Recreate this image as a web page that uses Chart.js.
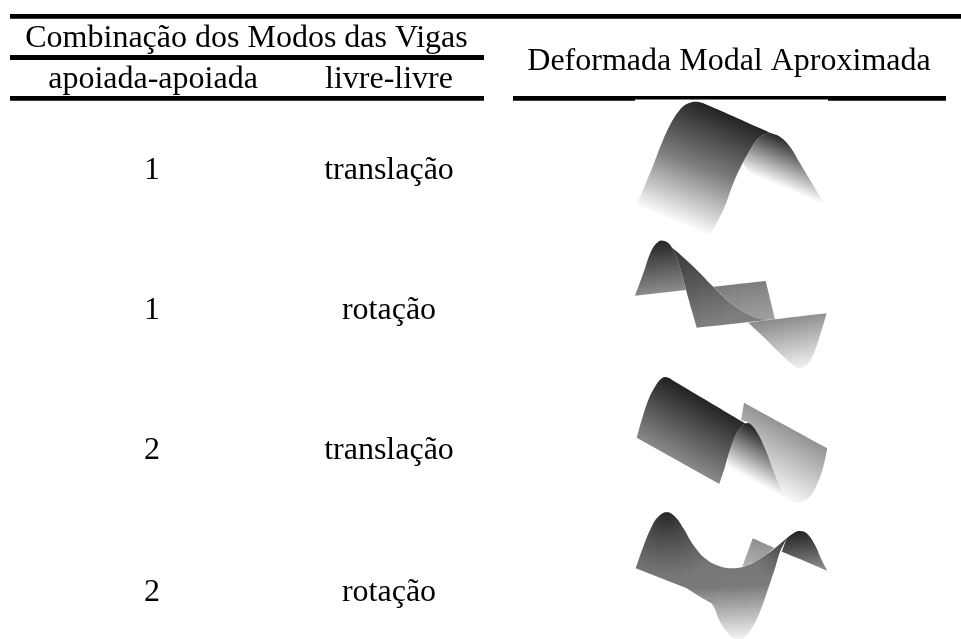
<!DOCTYPE html>
<html>
<head>
<meta charset="utf-8">
<style>html,body{margin:0;padding:0;background:#fff}canvas{display:block}</style>
<script src="https://cdn.jsdelivr.net/npm/chart.js@4"></script>
</head>
<body>
<canvas id="c" width="961" height="639"></canvas>
<script>
// Table text
const headerTop = "Combinação dos Modos das Vigas";
const headerLeft = "apoiada-apoiada";
const headerMid = "livre-livre";
const headerRight = "Deformada Modal Aproximada";
const beamModes = ["1", "1", "2", "2"];
const freeModes = ["translação", "rotação", "translação", "rotação"];

// Table rules
const ruleTop = [[10, 16.3], [961, 16.3]];
const ruleMiddle = [[10, 57.5], [484, 57.5]];
const ruleLeft = [[10, 98.3], [484, 98.3]];
const ruleRight = [[513, 98.3], [946, 98.3]];
const ruleNotch = [[635, 100.2], [828, 100.2]];

// Surface outlines. A repeated point is a sharp corner.
// Mode 1 translation
const s1Front = [[636.7,205],[645,185],[653.3,165],[661.7,143.3],[670,125],[678.3,111.7],[686.7,104],[696.7,101.7],[705,104],[770,132.7],[770,132.7],[760,136.7],[750,150],[741.7,165],[733.3,183.3],[723.3,210],[710,235],[710,235]];
const s1Back = [[770,132.7],[780,136.7],[790,146.7],[800,163.3],[810,180],[820,196.7],[826.7,207.3],[826.7,207.3],[751.7,175],[751.7,175],[741.7,161.7],[741.7,161.7],[750,150],[760,136.7],[770,132.7]];
// Mode 1 rotation
const s2Panel = [[713.3,286.7],[765.7,281],[765.7,281],[775,319.3],[775,319.3],[763.3,319.3],[753.3,316.7],[733.3,305],[713.3,286.7]];
const s2Hump = [[635,295.7],[643.3,273.3],[651.7,250],[658.3,241.7],[662.7,240.7],[668.3,243.3],[675,253.3],[681.7,273.3],[686,290],[686,290]];
const s2Mid = [[662.7,240.7],[670,245.7],[691.7,265],[713.3,286.7],[733.3,305],[753.3,316.7],[763.3,319.3],[775,319.3],[775,319.3],[696.7,327.7],[696.7,327.7],[688.3,298.3],[681.7,273.3],[675,253.3],[668.3,243.3],[662.7,240.7]];
const s2Trough = [[748.3,322.7],[775,319.3],[826.7,313.3],[826.7,313.3],[821.7,330],[815,350],[808.3,363.3],[800,368.3],[793.3,365],[780,353.3],[763.3,336.7],[748.3,322.7]];
// Mode 2 translation
const s3Panel = [[744,402.7],[827.3,448.3],[827.3,448.3],[823.3,466.7],[816.7,485],[808.3,498.3],[796.7,502.7],[786.7,498.3],[780,486.7],[773.3,470],[765,448.3],[756.7,431.7],[749.3,423.3],[741,420],[741,420]];
const s3Mid = [[745,423.3],[749.3,423.3],[756.7,431.7],[765,448.3],[773.3,470],[780,486.7],[786.7,498.3],[793.3,502.7],[793.3,502.7],[726.7,466.7],[726.7,466.7],[730,450],[736.7,433.3],[745,423.3]];
const s3Front = [[636.7,437.7],[641.7,420],[648.3,400],[655,386.7],[661.7,378.3],[666.7,377.3],[673.3,380.7],[745,423.3],[745,423.3],[736.7,433.3],[730,450],[725,466.7],[719.3,484],[719.3,484]];
// Mode 2 rotation
const s4Back = [[752.7,538.3],[774,547.7],[774,547.7],[763.3,556.7],[748.3,565],[742.3,566.7],[742.3,566.7]];
const s4Right = [[786.7,538.3],[795,532.3],[800,531],[806.7,533.3],[815,545],[821.7,560],[827.3,570.7],[827.3,570.7],[796.7,557.7],[796.7,557.7],[781.7,551.7],[781.7,551.7]];
const s4Main = [[635.7,568.3],[643.3,546.7],[651.7,526.7],[658.3,516.7],[666.7,512.3],[675,516.7],[683.3,528.3],[693.3,545],[705,558.3],[718.3,565.7],[733.3,568.3],[748.3,565],[763.3,556.7],[776.7,546.7],[786.7,538.3],[786.7,538.3],[780,551.7],[775,568.3],[768.3,588.3],[760,611.7],[751.7,628.3],[743.3,638.3],[733.3,638.3],[728.3,633.3],[720,621.7],[711.7,603.3],[700,596.7],[686.7,588.3],[686.7,588.3]];
const s4Sliver = [[700,596.7],[700,596.7],[711,601],[711,601],[717,615],[717,615],[711.7,603.3],[711.7,603.3]];

// Paint table: outline + gradient axis (value coords) + colour stops
const paints = [
  {p:s1Back, g:[751.7,175,769,132.7], c:["#ffffff","#2c2c2c"]},
  {p:s1Front, g:[673,220,718,110], c:["#fbfbfb","#7d7d7d","#242424"]},
  {p:s2Panel, g:[745,281,752,322], c:["#7c7c7c","#a0a0a0"]},
  {p:s2Hump, g:[662,241,668,292], c:["#262626","#8c8c8c"]},
  {p:s2Mid, g:[665,241,688,328], c:["#2c2c2c","#7e7e7e"]},
  {p:s2Trough, g:[790,316,800,369], c:["#8a8a8a","#f2f2f2"]},
  {p:s3Panel, g:[786,425,755,481], c:["#929292","#f8f8f8"]},
  {p:s3Mid, g:[726.7,466.7,749,426], c:["#ffffff","#2a2a2a"]},
  {p:s3Front, g:[678,461,710,402], c:["#8a8a8a","#232323"]},
  {p:s4Back, g:[760,538,752,567], c:["#8c8c8c","#b0b0b0"]},
  {p:s4Right, g:[800,531,805,570], c:["#222222","#8a8a8a"]},
  {p:s4Main, g:[733,535,738,638], c:["#707070","#7a7a7a","#f0f0f0"]},
  {p:s4Main, r:[667,512,65], c:["rgba(32,32,32,0.95)","rgba(70,70,70,0)"]},
  {p:s4Main, r:[796,533,50], c:["rgba(32,32,32,0.95)","rgba(70,70,70,0)"]},
  {p:s4Sliver, g:[700,596,717,615], c:["#787878","#9a9a9a"]}
];
const rules = [ruleTop, ruleMiddle, ruleLeft, ruleRight];
const ruleWidths = [4.7, 5, 4.7, 4.7];

const toXY = a => a.map(([x, y]) => ({x, y}));

function makeFill(chart, spec) {
  const sx = chart.scales.x, sy = chart.scales.y;
  if (!sx || !sy) return "#888";
  const X = v => sx.getPixelForValue(v), Y = v => sy.getPixelForValue(v);
  if (!isFinite(X(0)) || !isFinite(Y(0))) return "#888";
  const grad = spec.r
    ? chart.ctx.createRadialGradient(X(spec.r[0]), Y(spec.r[1]), 0, X(spec.r[0]), Y(spec.r[1]), spec.r[2])
    : chart.ctx.createLinearGradient(X(spec.g[0]), Y(spec.g[1]), X(spec.g[2]), Y(spec.g[3]));
  spec.c.forEach((col, i) => grad.addColorStop(i / (spec.c.length - 1), col));
  return grad;
}

const datasets = [];
paints.forEach(spec => datasets.push({
  data: toXY(spec.p), showLine: true, fill: "shape", tension: 0.4,
  borderWidth: 0, pointRadius: 0,
  backgroundColor: c => makeFill(c.chart, spec)
}));
rules.forEach((r, i) => datasets.push({
  data: toXY(r), showLine: true, fill: false, borderColor: "#000",
  borderWidth: ruleWidths[i], pointRadius: 0, borderCapStyle: "butt"
}));
datasets.push({
  data: toXY(ruleNotch), showLine: true, fill: false, borderColor: "#fff",
  borderWidth: 1.6, pointRadius: 0
});
// the first dataset in paint order is drawn first: higher order paints earlier
datasets.forEach((d, i) => { d.order = datasets.length - i; });

const FONT = '32px "Liberation Serif", "Times New Roman", serif';
const textPlugin = {
  id: "tableText",
  afterDatasetsDraw(chart) {
    const {ctx, scales: {x, y}} = chart;
    const put = (t, px, py) => ctx.fillText(t, x.getPixelForValue(px), y.getPixelForValue(py));
    ctx.save();
    ctx.font = FONT;
    ctx.fillStyle = "#000";
    ctx.textAlign = "center";
    ctx.textBaseline = "alphabetic";
    put(headerTop, 246.5, 47);
    put(headerLeft, 153, 88);
    put(headerMid, 389, 88);
    put(headerRight, 729, 70);
    const rowY = [179, 319, 459, 601];
    beamModes.forEach((m, i) => put(m, 152, rowY[i]));
    freeModes.forEach((m, i) => put(m, 389, rowY[i]));
    ctx.restore();
  }
};

const chart = new Chart(document.getElementById("c"), {
  type: "scatter",
  data: {datasets},
  plugins: [textPlugin],
  options: {
    responsive: false,
    animation: false,
    layout: {padding: 0, autoPadding: false},
    clip: false,
    plugins: {legend: {display: false}, tooltip: {enabled: false}, title: {display: false}},
    scales: {
      x: {type: "linear", min: 0, max: 961, display: false},
      y: {type: "linear", min: 0, max: 639, reverse: true, display: false}
    }
  }
});
chart.update();
</script>
</body>
</html>
